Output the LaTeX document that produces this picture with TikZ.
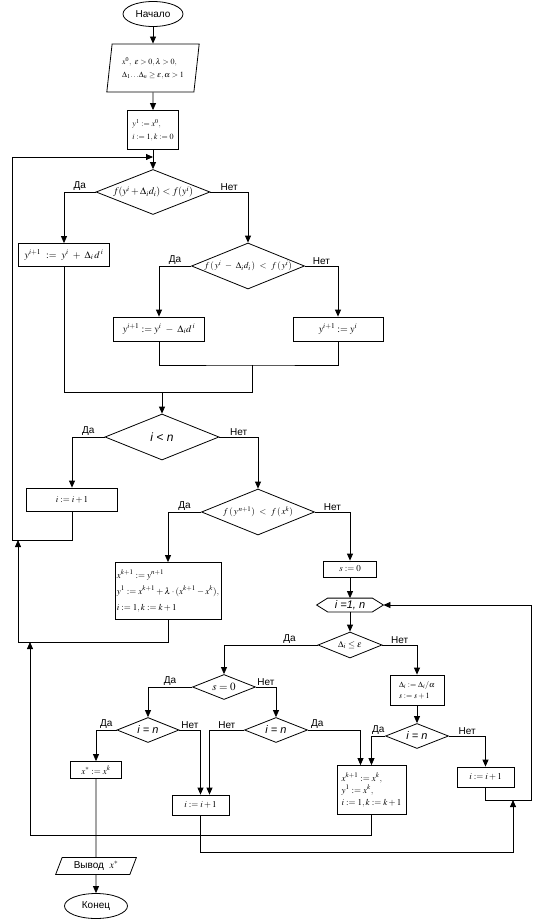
\documentclass[tikz,border=0pt]{standalone}
\usepackage{mathptmx}
\usepackage[no-math]{fontspec}
\setmainfont{Liberation Sans}
\usetikzlibrary{shapes.geometric, arrows.meta}

\begin{document}
\begin{tikzpicture}[
    x=1pt, y=-1pt,
    line width=0.8pt,
    font=\fontsize{9}{11}\selectfont,
    term/.style={draw, ellipse, minimum width=60pt, minimum height=25pt, inner sep=0pt, font=\fontsize{10}{12}\selectfont},
    io/.style={draw, trapezium, trapezium stretches=true, inner sep=1pt},
    proc/.style={draw, rectangle, inner sep=2pt},
    cond/.style={draw, diamond, aspect=2.5, inner sep=0pt},
    ieq/.style={font=\fontsize{11}{13}\selectfont\itshape},
    lbl/.style={font=\fontsize{10}{12}\selectfont, inner sep=1.5pt, above},
    arr/.style={-{Triangle[length=7pt,width=6pt]}}
]
\useasboundingbox (0,0) rectangle (543,920);

% ── Start, input and first step ──────────────────────────────────────────────
\node[term] (start) at (153,14) {Начало};
\node[io, trapezium left angle=80, trapezium right angle=100, minimum width=93pt, minimum height=48pt, align=left, font=\fontsize{8}{10}\selectfont] (input) at (153,68)
    {$x^0,\ \varepsilon>0, \lambda>0,$\\[3pt] $\Delta_1\!\ldots\!\Delta_n \ge \varepsilon, \alpha>1$};
\node[proc, minimum width=51pt, minimum height=39pt, align=left, font=\fontsize{8}{10}\selectfont] (init) at (153,130)
    {$y^1 := x^0,$\\[3pt] $i:=1, k:=0$};
\coordinate (back) at (153,157);

% ── Search along the axes ────────────────────────────────────────────────────
\node[cond, minimum width=114pt, minimum height=45pt, font=\fontsize{10}{12}\selectfont] (c1) at (153,192) {$f(y^i+\Delta_i d_i)<f(y^i)$};
\node[proc, minimum width=91pt, minimum height=23pt, font=\fontsize{10}{12}\selectfont] (b1) at (64,255) {$y^{i+1}\ :=\ y^i\ +\ \Delta_i\, d^{\,i}$};
\node[cond, minimum width=113pt, minimum height=46pt] (c2) at (248,266) {$f\,(\,y^i\ -\ \Delta_i d_i\,)\ <\ f\,(\,y^i)$};
\node[proc, minimum width=91pt, minimum height=24pt, font=\fontsize{10}{12}\selectfont] (b2) at (159,329) {$y^{i+1} := y^i\ -\ \Delta_i d^{\,i}$};
\node[proc, minimum width=90pt, minimum height=24pt, font=\fontsize{10}{12}\selectfont] (b3) at (338,329) {$y^{i+1} := y^i$};
\coordinate (m1) at (252,365);
\coordinate (m2) at (252,392);
\coordinate (m3) at (162,392);

\node[cond, minimum width=114pt, minimum height=46pt, font=\fontsize{12}{14}\selectfont\itshape] (c3) at (162,437) {i < n};
\node[proc, minimum width=91pt, minimum height=23pt] (b4) at (72,499.5) {$i := i+1$};
\node[cond, minimum width=113pt, minimum height=46pt] (c4) at (258,512) {$f\,(\,y^{\,n+1})\ <\ f\,(\,x^k)$};
\node[proc, minimum width=106pt, minimum height=57pt, align=left] (b5) at (168,591)
    {$x^{k+1} := y^{n+1}$\\[5pt] $y^1 := x^{k+1} + \lambda\cdot(x^{k+1} - x^k),$\\[5pt] $i:=1, k:=k+1$};

% ── Step reduction ───────────────────────────────────────────────────────────
\node[proc, minimum width=53pt, minimum height=16pt] (b6) at (350,569) {$s:=0$};
\node[ieq, minimum width=44pt, minimum height=13pt, inner sep=0pt] (loop) at (350,605) {i =1, n};
\draw (loop.north west) -- (loop.north east) -- ([xshift=11pt]loop.east) -- (loop.south east)
    -- (loop.south west) -- ([xshift=-11pt]loop.west) -- cycle;
\coordinate (loopR) at ([xshift=11pt]loop.east);

\node[cond, minimum width=64pt, minimum height=26pt] (c5) at (350,645) {$\Delta_i \le \varepsilon$};
\node[proc, minimum width=54pt, minimum height=30pt, align=left, font=\fontsize{8}{10}\selectfont] (b7) at (417,690)
    {$\Delta_i := \Delta_i/\alpha$\\[1pt] $s := s+1$};
\node[cond, minimum width=63pt, minimum height=25pt, font=\fontsize{11}{13}\selectfont] (c6) at (224,687) {$s=0$};
\node[cond, ieq, minimum width=62pt, minimum height=25pt] (c7) at (148,730) {i = n};
\node[cond, ieq, minimum width=63pt, minimum height=25pt] (cm) at (276,730) {i = n};
\node[cond, ieq, minimum width=63pt, minimum height=25pt] (c8) at (417,736) {i = n};

\node[proc, minimum width=51pt, minimum height=17pt] (b8) at (96,770) {$x^* := x^k$};
\node[proc, minimum width=57pt, minimum height=20pt] (b9) at (200.5,805) {$i:=i+1$};
\node[proc, minimum width=69pt, minimum height=49pt, align=left] (b10) at (371.5,790)
    {$x^{k+1} := x^k,$\\[1pt] $y^1 := x^k,$\\[1pt] $i:=1, k:=k+1$};
\node[proc, minimum width=57pt, minimum height=20pt] (b11) at (485.5,777) {$i:=i+1$};
\coordinate (b9in) at ([xshift=9pt]b9.north);
\coordinate (b10in) at ([xshift=-11pt]b10.north);

% ── Output and end ───────────────────────────────────────────────────────────
\node[io, trapezium left angle=68, trapezium right angle=112, minimum width=81pt, minimum height=17pt, font=\fontsize{10}{12}\selectfont] (out) at (96,866) {Вывод\ \ $x^*$};
\node[term, minimum width=63pt] (end) at (96,906) {Конец};

% ── Connectors ───────────────────────────────────────────────────────────────
\draw[arr] (start) -- (input);
\draw[arr] (input) -- (init);
\draw[arr] (init) -- (c1);
\draw[arr] (c1.west) -| node[lbl, pos=0.25] {Да} (b1.north);
\draw[arr] (c1.east) -| node[lbl, pos=0.25] {Нет} (c2.north);
\draw[arr] (c2.west) -| node[lbl, pos=0.25] {Да} (b2.north);
\draw[arr] (c2.east) -| node[lbl, pos=0.25] {Нет} (b3.north);
\draw (b2.south) |- (m1) -| (b3.south);
\draw (b1.south) |- (m2) -- (m1);
\draw[arr] (m3) -- (c3.north);
\draw[arr] (c3.west) -| node[lbl, pos=0.25] {Да} (b4.north);
\draw[arr] (c3.east) -| node[lbl, pos=0.25] {Нет} (c4.north);
\draw[arr] (c4.west) -| node[lbl, pos=0.25] {Да} (b5.north);
\draw[arr] (c4.east) -| node[lbl, pos=0.25] {Нет} (b6.north);
\draw[arr] (b6) -- (loop.north);
\draw[arr] (loop.south) -- (c5.north);
\draw[arr] (c5.west) -| node[lbl, pos=0.15] {Да} (c6.north);
\draw[arr] (c5.east) -| node[lbl, pos=0.25] {Нет} (b7.north);
\draw[arr] (b7) -- (c8);
\draw[arr] (c6.west) -| node[lbl, pos=0.25] {Да} (c7.north);
\draw[arr] (c6.east) -| node[lbl, pos=0.25] {Нет} (cm.north);
\draw[arr] (c7.west) -| node[lbl, pos=0.25] {Да} (b8.north);
\draw[arr] (c7.east) -| node[lbl, pos=0.25] {Нет} (b9.north);
\draw[arr] (cm.west) -| node[lbl, pos=0.25] {Нет} (b9in);
\draw[arr] (cm.east) -| node[lbl, pos=0.09] {Да} (b10in);
\draw[arr] (c8.west) -| node[lbl, pos=0.25] {Да} (b10.north);
\draw[arr] (c8.east) -| node[lbl, pos=0.25] {Нет} (b11.north);

% ── Return lines ─────────────────────────────────────────────────────────────
\coordinate (l1) at (12,540);
\draw[arr] (b4.south) |- (l1) |- (back);
\coordinate (l2a) at (18,642);
\coordinate (l2b) at (18,540);
\draw[arr] (b5.south) |- (l2a) -- (l2b);
\coordinate (l3a) at (30,835);
\coordinate (l3b) at (30,642);
\draw[arr] (b10.south) |- (l3a) -- (l3b);
\coordinate (l4a) at (513,852);
\coordinate (l4b) at (513,800);
\draw[arr] (b9.south) |- (l4a) -- (l4b);
\coordinate (l5) at (531,800);
\draw[arr] (b11.south) |- (l5) |- (loopR);

\draw (b8.south) -- (out.north);
\draw[arr] (out.south) -- (end.north);

\end{tikzpicture}
\end{document}
